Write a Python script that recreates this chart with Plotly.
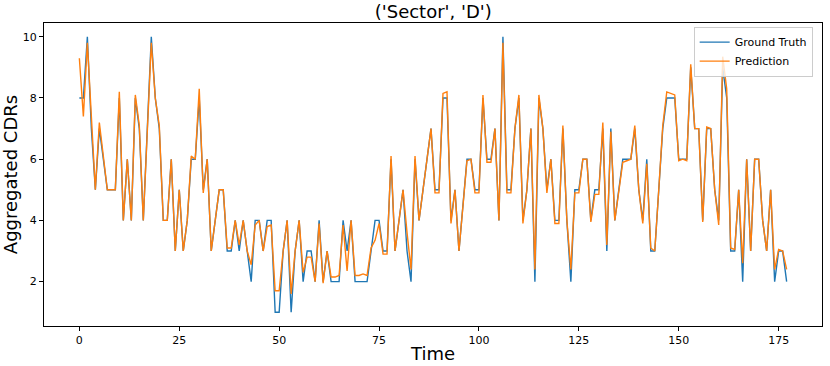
import plotly.graph_objects as go

# time steps 0..177
time = list(range(178))

ground_truth = [
    8, 8, 10, 7, 5, 7, 6, 5, 5, 5,
    8, 4, 6, 4, 8, 7, 4, 7, 10, 8,
    7, 4, 4, 6, 3, 5, 3, 4, 6, 6,
    8, 5, 6, 3, 4, 5, 5, 3, 3, 4,
    3, 4, 3, 2, 4, 4, 3, 4, 4, 1,
    1, 3, 4, 1, 3, 4, 2, 3, 3, 2,
    4, 2, 3, 2, 2, 2, 4, 3, 4, 2,
    2, 2, 2, 3, 4, 4, 3, 3, 6, 3,
    4, 5, 3, 2, 6, 4, 5, 6, 7, 5,
    5, 8, 8, 4, 5, 3, 4.5, 6, 6, 5,
    5, 8, 6, 6, 7, 4, 10, 5, 5, 7,
    8, 4, 5, 7, 2, 8, 7, 5, 6, 4,
    4, 7, 4, 2, 5, 5, 6, 6, 4, 5,
    5, 7, 3, 7, 4, 5, 6, 6, 6, 7,
    5, 4, 6, 3, 3, 5, 7, 8, 8, 8,
    6, 6, 6, 9, 7, 7, 4, 7, 7, 5,
    4, 9, 8, 3, 3, 5, 2, 6, 3, 6,
    6, 4, 3, 5, 2, 3, 3, 2,
]

prediction = [
    9.3, 7.4, 9.8, 7.2, 5.0, 7.2, 6.1, 5.0, 5.0, 5.0,
    8.2, 4.0, 6.0, 4.0, 8.1, 7.1, 4.0, 7.0, 9.8, 8.0,
    7.1, 4.0, 4.0, 6.0, 3.0, 5.0, 3.0, 4.0, 6.1, 6.0,
    8.3, 4.9, 6.0, 3.0, 4.0, 5.0, 5.0, 3.1, 3.1, 4.0,
    3.2, 4.0, 3.0, 2.55, 3.85, 4.0, 3.0, 3.8, 3.85, 1.7,
    1.7, 3.0, 4.0, 1.6, 3.0, 4.0, 2.3, 2.8, 2.8, 2.0,
    3.9, 1.95, 3.0, 2.15, 2.15, 2.2, 3.85, 2.35, 4.0, 2.2,
    2.2, 2.25, 2.2, 3.1, 3.35, 3.9, 2.9, 2.9, 6.1, 3.0,
    4.0, 5.0, 3.6, 2.4, 6.1, 4.0, 5.0, 6.0, 7.0, 4.9,
    4.9, 8.15, 8.2, 3.9, 5.0, 3.0, 4.6, 5.95, 6.0, 4.9,
    4.9, 8.1, 5.9, 5.9, 7.0, 4.0, 9.8, 4.9, 4.9, 7.0,
    8.1, 3.9, 5.0, 7.0, 2.4, 8.1, 7.0, 4.9, 6.0, 3.9,
    3.9, 7.1, 4.0, 2.4, 4.9, 4.9, 6.0, 6.0, 3.95, 4.85,
    4.85, 7.2, 3.2, 6.9, 4.0, 5.0, 5.9, 5.95, 6.0, 7.1,
    5.0, 3.9, 5.85, 3.1, 3.0, 5.0, 7.1, 8.2, 8.15, 8.1,
    5.95, 6.0, 5.95, 9.1, 7.0, 7.0, 3.95, 7.05, 7.0, 5.0,
    3.85, 9.35, 8.3, 3.1, 3.05, 5.0, 2.6, 6.0, 3.0, 6.0,
    6.0, 4.0, 3.0, 5.0, 2.4, 3.05, 3.0, 2.4,
]

x_ticks = [0, 25, 50, 75, 100, 125, 150, 175]
y_ticks = [2, 4, 6, 8, 10]

FONT = "DejaVu Sans"

fig = go.Figure()
fig.add_trace(go.Scatter(x=time, y=ground_truth, mode="lines", name="Ground Truth",
                         line=dict(color="#1f77b4", width=1.4)))
fig.add_trace(go.Scatter(x=time, y=prediction, mode="lines", name="Prediction",
                         line=dict(color="#ff7f0e", width=1.4)))

axis_common = dict(
    showline=True, linecolor="black", linewidth=1, mirror=True,
    showgrid=False, zeroline=False, automargin=False,
    ticks="outside", ticklen=4, tickwidth=1, tickcolor="black",
    tickfont=dict(family=FONT, size=11, color="black"),
)

fig.update_layout(
    width=830, height=366,
    margin=dict(l=44, r=8, t=23, b=40),
    paper_bgcolor="white", plot_bgcolor="white",
    font=dict(family=FONT, color="black"),
    title=dict(text="('Sector', 'D')", x=0.522, xanchor="center", y=0.967, yanchor="middle",
               font=dict(family=FONT, size=18)),
    xaxis=dict(range=[-8.85, 185.85], tickvals=x_ticks,
               title=dict(text="Time", font=dict(family=FONT, size=18), standoff=1),
               **axis_common),
    yaxis=dict(range=[0.55, 10.45], tickvals=y_ticks,
               title=dict(text="Aggregated CDRs", font=dict(family=FONT, size=18), standoff=3),
               **axis_common),
    legend=dict(x=0.988, y=0.988, xanchor="right", yanchor="top",
                bgcolor="rgba(255,255,255,0.8)", bordercolor="#cccccc", borderwidth=1,
                font=dict(family=FONT, size=11), itemwidth=30, tracegroupgap=0),
    showlegend=True,
)

# drop the page's default body margin so the figure sits at the window origin
fig.write_html("out.html", config={"displayModeBar": False},
               post_script="document.body.style.margin='0px';")
